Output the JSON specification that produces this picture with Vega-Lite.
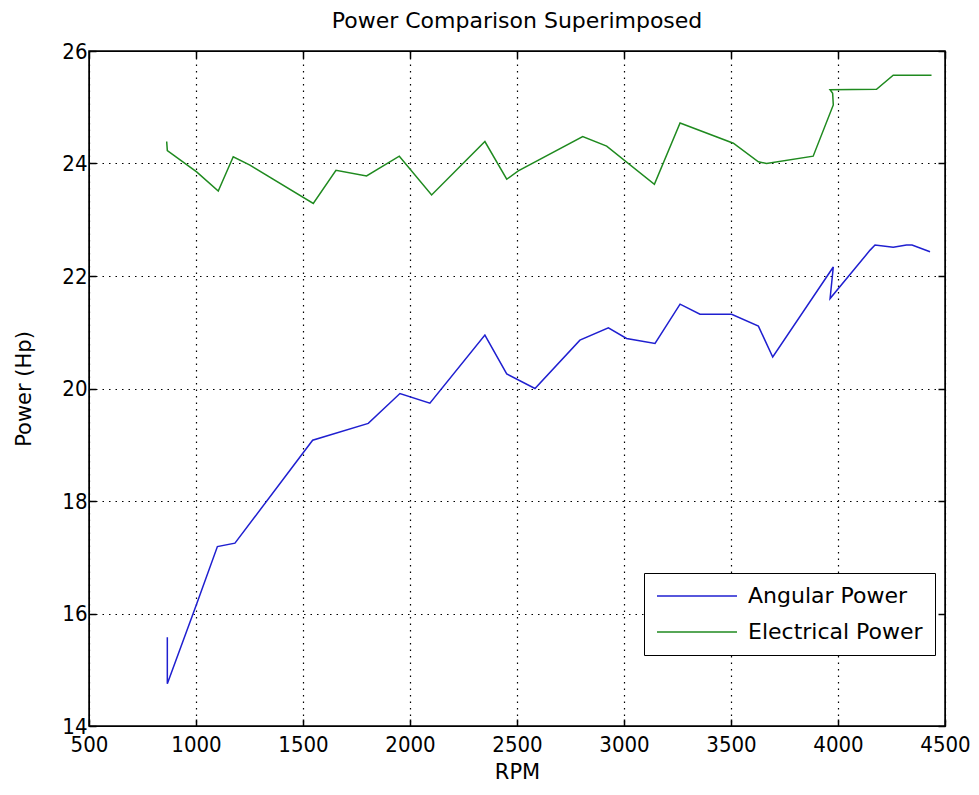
{
  "$schema": "https://vega.github.io/schema/vega-lite/v6.json",
  "autosize": "none",
  "width": 856,
  "height": 675,
  "padding": {"left": 89, "top": 51, "right": 34, "bottom": 69},
  "background": "white",
  "title": {"text": "Power Comparison Superimposed", "fontSize": 22, "fontWeight": "normal", "font": "DejaVu Sans", "offset": 7, "color": "black"},
  "config": {
    "view": {"stroke": "black", "strokeWidth": 1.5},
    "axis": {
      "labelFont": "DejaVu Sans Condensed",
      "titleFont": "DejaVu Sans",
      "labelFontSize": 22,
      "titleFontSize": 21,
      "titleFontWeight": "normal",
      "labelColor": "black",
      "titleColor": "black",
      "domainColor": "black",
      "tickColor": "black",
      "tickSize": -7,
      "tickWidth": 1.5,
      "gridColor": "black",
      "gridOpacity": 1,
      "gridDash": [1.5, 5],
      "gridWidth": 1.2
    }
  },
  "data": {"values": [
    {"series": "Electrical Power", "i": 1, "rpm": 863, "power": 24.39},
    {"series": "Electrical Power", "i": 2, "rpm": 866, "power": 24.23},
    {"series": "Electrical Power", "i": 3, "rpm": 1003, "power": 23.85},
    {"series": "Electrical Power", "i": 4, "rpm": 1104, "power": 23.51},
    {"series": "Electrical Power", "i": 5, "rpm": 1174, "power": 24.12},
    {"series": "Electrical Power", "i": 6, "rpm": 1252, "power": 23.97},
    {"series": "Electrical Power", "i": 7, "rpm": 1548, "power": 23.29},
    {"series": "Electrical Power", "i": 8, "rpm": 1654, "power": 23.88},
    {"series": "Electrical Power", "i": 9, "rpm": 1797, "power": 23.78},
    {"series": "Electrical Power", "i": 10, "rpm": 1950, "power": 24.13},
    {"series": "Electrical Power", "i": 11, "rpm": 2101, "power": 23.44},
    {"series": "Electrical Power", "i": 12, "rpm": 2350, "power": 24.39},
    {"series": "Electrical Power", "i": 13, "rpm": 2452, "power": 23.72},
    {"series": "Electrical Power", "i": 14, "rpm": 2506, "power": 23.87},
    {"series": "Electrical Power", "i": 15, "rpm": 2807, "power": 24.48},
    {"series": "Electrical Power", "i": 16, "rpm": 2919, "power": 24.31},
    {"series": "Electrical Power", "i": 17, "rpm": 3142, "power": 23.63},
    {"series": "Electrical Power", "i": 18, "rpm": 3262, "power": 24.72},
    {"series": "Electrical Power", "i": 19, "rpm": 3511, "power": 24.36},
    {"series": "Electrical Power", "i": 20, "rpm": 3628, "power": 24.03},
    {"series": "Electrical Power", "i": 21, "rpm": 3666, "power": 24.0},
    {"series": "Electrical Power", "i": 22, "rpm": 3884, "power": 24.13},
    {"series": "Electrical Power", "i": 23, "rpm": 3978, "power": 25.04},
    {"series": "Electrical Power", "i": 24, "rpm": 3975, "power": 25.25},
    {"series": "Electrical Power", "i": 25, "rpm": 3963, "power": 25.31},
    {"series": "Electrical Power", "i": 26, "rpm": 4180, "power": 25.32},
    {"series": "Electrical Power", "i": 27, "rpm": 4258, "power": 25.57},
    {"series": "Electrical Power", "i": 28, "rpm": 4437, "power": 25.57},
    {"series": "Angular Power", "i": 1, "rpm": 866, "power": 15.58},
    {"series": "Angular Power", "i": 2, "rpm": 866, "power": 14.75},
    {"series": "Angular Power", "i": 3, "rpm": 1003, "power": 16.17},
    {"series": "Angular Power", "i": 4, "rpm": 1100, "power": 17.19},
    {"series": "Angular Power", "i": 5, "rpm": 1182, "power": 17.25},
    {"series": "Angular Power", "i": 6, "rpm": 1545, "power": 19.08},
    {"series": "Angular Power", "i": 7, "rpm": 1805, "power": 19.38},
    {"series": "Angular Power", "i": 8, "rpm": 1953, "power": 19.91},
    {"series": "Angular Power", "i": 9, "rpm": 2093, "power": 19.74},
    {"series": "Angular Power", "i": 10, "rpm": 2350, "power": 20.95},
    {"series": "Angular Power", "i": 11, "rpm": 2452, "power": 20.26},
    {"series": "Angular Power", "i": 12, "rpm": 2584, "power": 20.0},
    {"series": "Angular Power", "i": 13, "rpm": 2794, "power": 20.86},
    {"series": "Angular Power", "i": 14, "rpm": 2927, "power": 21.08},
    {"series": "Angular Power", "i": 15, "rpm": 3012, "power": 20.89},
    {"series": "Angular Power", "i": 16, "rpm": 3145, "power": 20.8},
    {"series": "Angular Power", "i": 17, "rpm": 3262, "power": 21.5},
    {"series": "Angular Power", "i": 18, "rpm": 3355, "power": 21.32},
    {"series": "Angular Power", "i": 19, "rpm": 3503, "power": 21.32},
    {"series": "Angular Power", "i": 20, "rpm": 3628, "power": 21.11},
    {"series": "Angular Power", "i": 21, "rpm": 3695, "power": 20.56},
    {"series": "Angular Power", "i": 22, "rpm": 3978, "power": 22.16},
    {"series": "Angular Power", "i": 23, "rpm": 3963, "power": 21.6},
    {"series": "Angular Power", "i": 24, "rpm": 4150, "power": 22.46},
    {"series": "Angular Power", "i": 25, "rpm": 4173, "power": 22.55},
    {"series": "Angular Power", "i": 26, "rpm": 4258, "power": 22.51},
    {"series": "Angular Power", "i": 27, "rpm": 4320, "power": 22.55},
    {"series": "Angular Power", "i": 28, "rpm": 4346, "power": 22.55},
    {"series": "Angular Power", "i": 29, "rpm": 4430, "power": 22.43}
  ]},
  "resolve": {"axis": {"x": "independent", "y": "independent"}},
  "layer": [
    {
      "mark": {"type": "line", "strokeWidth": 1.5},
      "encoding": {
        "x": {"field": "rpm", "type": "quantitative", "scale": {"domain": [500, 4500], "nice": false, "zero": false},
              "axis": {"title": "RPM", "format": "d", "values": [500, 1000, 1500, 2000, 2500, 3000, 3500, 4000, 4500], "grid": true, "labelPadding": 15, "titlePadding": 6, "labelFlush": false}},
        "y": {"field": "power", "type": "quantitative", "scale": {"domain": [14, 26], "nice": false, "zero": false},
              "axis": {"title": "Power (Hp)", "format": "d", "values": [14, 16, 18, 20, 22, 24, 26], "grid": true, "labelPadding": 9, "titlePadding": 27, "labelFlush": false}},
        "color": {"field": "series", "type": "nominal",
                  "scale": {"domain": ["Angular Power", "Electrical Power"], "range": ["#1f1fd0", "#1f8a1f"]},
                  "legend": {"title": null, "orient": "none", "legendX": 555, "legendY": 522,
                             "symbolType": "M-4,0H4", "symbolSize": 400, "symbolStrokeWidth": 1.5,
                             "symbolOffset": 30,
                             "labelFontSize": 22, "labelFont": "DejaVu Sans", "labelLimit": 400,
                             "labelColor": "black", "fillColor": "white", "strokeColor": "black",
                             "padding": 12, "rowPadding": 14, "labelOffset": 40}},
        "order": {"field": "i", "type": "quantitative"}
      }
    },
    {
      "mark": {"type": "line", "strokeOpacity": 0},
      "encoding": {
        "x": {"field": "rpm", "type": "quantitative", "axis": {"orient": "top", "title": null, "labels": false, "grid": false, "values": [500, 1000, 1500, 2000, 2500, 3000, 3500, 4000, 4500]}},
        "y": {"field": "power", "type": "quantitative", "axis": {"orient": "right", "title": null, "labels": false, "grid": false, "values": [14, 16, 18, 20, 22, 24, 26]}},
        "detail": {"field": "series"},
        "order": {"field": "i", "type": "quantitative"}
      }
    }
  ]
}
